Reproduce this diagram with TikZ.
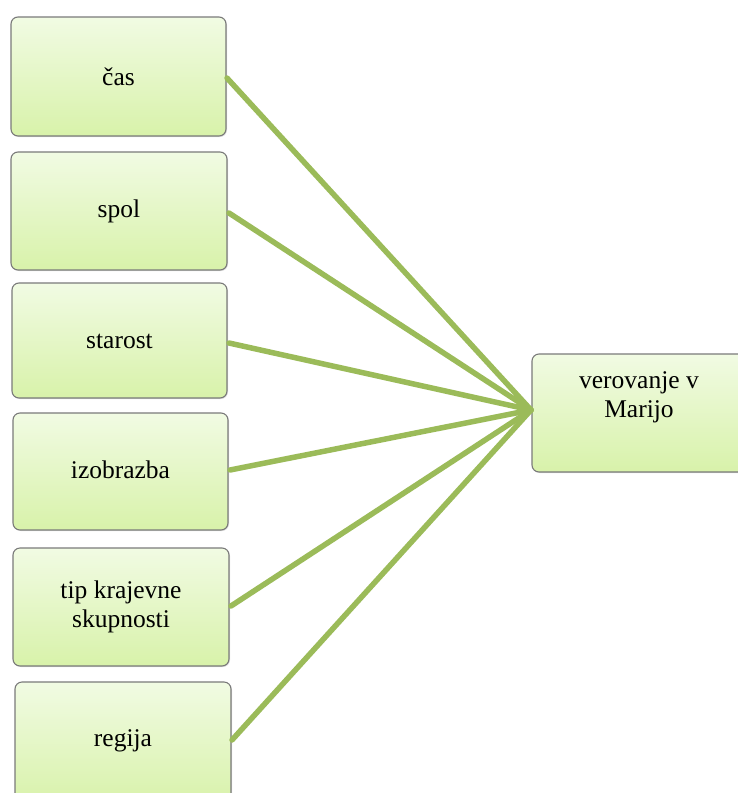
\documentclass[tikz,border=0pt]{standalone}
\usepackage{fontspec}
\setmainfont{Liberation Serif}
\usetikzlibrary{shadows}
\definecolor{boxtop}{HTML}{F1FBE3}
\definecolor{boxbot}{HTML}{D8F2AA}
\definecolor{boxline}{HTML}{7A7A7A}
\definecolor{linkc}{HTML}{9BBB59}
\tikzset{
  card/.style={draw=boxline, line width=1.1pt, rounded corners=7pt,
    top color=boxtop, bottom color=boxbot, inner sep=0pt,
    drop shadow={shadow xshift=1pt, shadow yshift=-1pt, opacity=0.25}},
  lbl/.style={font=\fontsize{25.5}{29}\selectfont, align=center, text=black},
  link/.style={draw=linkc, line width=5.5pt, line cap=round}
}
\begin{document}
\begin{tikzpicture}[x=1pt,y=-1pt]
\useasboundingbox (0,0) rectangle (738,793);
\begin{scope}
\clip (0,0) rectangle (738,793);
\path[card] (11,17) rectangle (226,136);
\path[card] (11,152) rectangle (227,270);
\path[card] (12,283) rectangle (227,398);
\path[card] (13,413) rectangle (228,530);
\path[card] (13,548) rectangle (229,666);
\path[card] (15,682) rectangle (231,805);
\path[card] (532,354) rectangle (746,472);
\end{scope}
\node[lbl] (cas) at (118.5,77) {čas};
\node[lbl] (spol) at (119,211) {spol};
\node[lbl] (starost) at (119.5,341) {starost};
\node[lbl] (izob) at (120.5,470) {izobrazba};
\node[lbl] (tip) at (121,607) {tip krajevne\\skupnosti};
\node[lbl] (reg) at (123,741) {regija};
\node[lbl] (ver) at (639,397) {verovanje v\\Marijo};
\coordinate (hub) at (531,410);
\coordinate (c1) at (227,78);
\coordinate (c2) at (229,213);
\coordinate (c3) at (229,343);
\coordinate (c4) at (230,470);
\coordinate (c5) at (231,606);
\coordinate (c6) at (232,740);
\foreach \c in {c1,c2,c3,c4,c5,c6} \draw[link] (\c) -- (hub);
\end{tikzpicture}
\end{document}
